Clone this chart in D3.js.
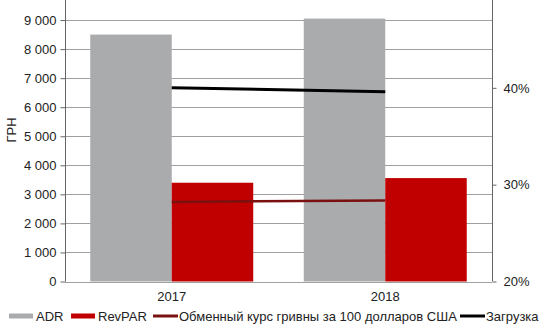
<!DOCTYPE html>
<html>
<head>
<meta charset="utf-8">
<script src="https://cdn.jsdelivr.net/npm/d3@7"></script>
<style>
  body { margin: 0; background: #fff; }
  svg { font-family: "Liberation Sans", Arial, sans-serif; }
</style>
</head>
<body>
<svg id="chart" width="550" height="330"></svg>
<script>
/***** Data *****/
var years = ["2017", "2018"];
var adr = [8500, 9050];
var revpar = [3400, 3560];
var exchangeRate = [2740, 2790];
var occupancy = [0.400, 0.396];
var leftTicks = [0, 1000, 2000, 3000, 4000, 5000, 6000, 7000, 8000, 9000];
var rightTicks = [0.2, 0.3, 0.4];

(function (d3) {

    /***** Configuration *****/
    var left = 65, right = 492, bottom = 281.5, top = -9;
    var fontSize = "13px";
    var svg = d3.select("#chart");

    /***** Scales *****/
    var x = d3.scaleBand().domain(years).range([left, right]).padding(0);
    var xSeries = d3.scaleBand().domain(["ADR", "RevPAR"]).range([0, x.bandwidth()])
                    .paddingInner(0).paddingOuter(0.31);
    var y = d3.scaleLinear().domain([0, 10000]).range([bottom, top]);
    var y2 = d3.scaleLinear().domain([0.2, 0.5]).range([bottom, top]);

    var formatThousands = d3.formatLocale({ thousands: "\u00a0", grouping: [3], decimal: ",", currency: ["", ""] }).format(",d");

    /***** Grid *****/
    svg.append("g")
       .selectAll("line")
       .data(leftTicks)
       .join("line")
       .attr("x1", left).attr("x2", right)
       .attr("y1", function (d) { return Math.round(y(d)) + 0.5; })
       .attr("y2", function (d) { return Math.round(y(d)) + 0.5; })
       .attr("stroke", "#a0a0a0")
       .attr("stroke-width", 1);

    /***** Bars *****/
    var series = [
        { name: "ADR", values: adr, color: "#aaabad" },
        { name: "RevPAR", values: revpar, color: "#c00000" }
    ];
    series.forEach(function (s) {
        svg.append("g")
           .selectAll("rect")
           .data(s.values)
           .join("rect")
           .attr("x", function (d, i) { return x(years[i]) + xSeries(s.name); })
           .attr("width", xSeries.bandwidth())
           .attr("y", function (d) { return y(d); })
           .attr("height", function (d) { return y(0) - y(d); })
           .attr("fill", s.color);
    });

    /***** Lines *****/
    var lineLeft = d3.line()
                     .x(function (d, i) { return x(years[i]) + x.bandwidth() / 2; })
                     .y(function (d) { return y(d); });
    var lineRight = d3.line()
                      .x(function (d, i) { return x(years[i]) + x.bandwidth() / 2; })
                      .y(function (d) { return y2(d); });

    svg.append("path")
       .attr("d", lineLeft(exchangeRate))
       .attr("fill", "none")
       .attr("stroke", "#7a1010")
       .attr("stroke-width", 2.5);

    svg.append("path")
       .attr("d", lineRight(occupancy))
       .attr("fill", "none")
       .attr("stroke", "#000")
       .attr("stroke-width", 3);

    /***** Axes *****/
    var yAxis = d3.axisLeft(y).tickValues(leftTicks).tickSize(5).tickPadding(4)
                  .tickFormat(formatThousands);
    var y2Axis = d3.axisRight(y2).tickValues(rightTicks).tickSize(4).tickPadding(7)
                   .tickFormat(d3.format(".0%"));

    var gLeft = svg.append("g")
                   .attr("transform", "translate(" + (left + 0.5) + ",0)")
                   .call(yAxis);
    var gRight = svg.append("g")
                    .attr("transform", "translate(" + (right + 0.5) + ",0)")
                    .call(y2Axis);

    [gLeft, gRight].forEach(function (g) {
        g.select(".domain").attr("stroke", "#666").attr("d", "M0," + top + "V" + bottom);
        g.selectAll(".tick line").attr("stroke", "#666");
        g.selectAll(".tick text")
         .attr("fill", "#222")
         .style("font-size", fontSize)
         .style("font-family", "'Liberation Sans', Arial, sans-serif");
    });

    // category labels
    svg.append("g")
       .selectAll("text")
       .data(years)
       .join("text")
       .attr("x", function (d) { return x(d) + x.bandwidth() / 2; })
       .attr("y", 301)
       .attr("text-anchor", "middle")
       .attr("fill", "#222")
       .style("font-size", fontSize)
       .text(function (d) { return d; });

    // axis title
    svg.append("text")
       .attr("transform", "translate(16,130) rotate(-90)")
       .attr("text-anchor", "middle")
       .attr("fill", "#222")
       .style("font-size", fontSize)
       .text("ГРН");

    /***** Legend *****/
    var legendItems = [
        { label: "ADR", color: "#aaabad", type: "bar", x: 9 },
        { label: "RevPAR", color: "#c00000", type: "bar", x: 71 },
        { label: "Обменный курс гривны за 100 долларов США", color: "#7a1010", type: "line", x: 153 },
        { label: "Загрузка", color: "#000", type: "line", x: 460 }
    ];
    var legend = svg.append("g")
                    .selectAll("g")
                    .data(legendItems)
                    .join("g")
                    .attr("transform", function (d) { return "translate(" + d.x + ",316)"; });

    legend.filter(function (d) { return d.type === "bar"; })
          .append("rect")
          .attr("x", 0).attr("y", -2.5)
          .attr("width", 24).attr("height", 5)
          .attr("fill", function (d) { return d.color; });

    legend.filter(function (d) { return d.type === "line"; })
          .append("line")
          .attr("x1", 0).attr("x2", 25)
          .attr("y1", 0).attr("y2", 0)
          .attr("stroke", function (d) { return d.color; })
          .attr("stroke-width", 3);

    legend.append("text")
          .attr("x", function (d) { return d.type === "bar" ? 27 : 26; })
          .attr("y", 4.5)
          .attr("fill", "#222")
          .style("font-size", fontSize)
          .text(function (d) { return d.label; });

})(d3);
</script>
</body>
</html>
